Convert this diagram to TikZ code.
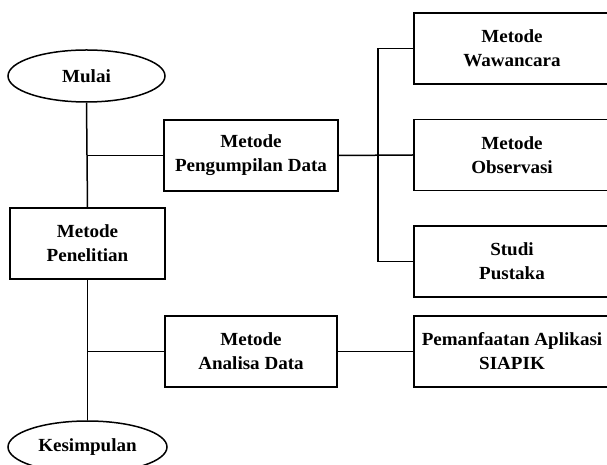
\documentclass[tikz,border=0pt]{standalone}
\usepackage{fontspec}
\setmainfont[FakeStretch=1.03]{Liberation Serif}
\usetikzlibrary{shapes.geometric}

\begin{document}
\begin{tikzpicture}[x=1pt,y=1pt,
  kotak/.style={draw,line width=1.5pt,rectangle,inner sep=0pt,minimum height=71pt,align=center,
    font=\fontsize{18.5}{24}\selectfont\bfseries},
  elips/.style={draw,line width=1.5pt,ellipse,inner sep=0pt,minimum height=52pt,
    font=\fontsize{18.5}{24}\selectfont\bfseries},
  garis/.style={line width=1.5pt}]

\useasboundingbox (0,0) rectangle (607,465);

% kolom kiri
\node[elips,minimum width=157pt] (mulai) at (86.5,389) {Mulai};
\node[kotak,minimum width=155pt] (penelitian) at (87.5,221.5) {Metode\\Penelitian};
\node[elips,minimum width=159pt] (kesimpulan) at (87.5,18) {Kesimpulan};

% kolom tengah
\node[kotak,minimum width=174pt] (pengumpulan) at (251,309.5) {Metode\\Pengumpilan Data};
\node[kotak,minimum width=172pt] (analisa) at (251,113.5) {Metode\\Analisa Data};

% kolom kanan
\node[kotak,minimum width=196pt] (wawancara) at (512,416.5) {Metode\\Wawancara};
\node[kotak,minimum width=196pt] (observasi) at (512,310) {Metode\\Observasi};
\node[kotak,minimum width=196pt] (pustaka) at (512,203.5) {Studi\\Pustaka};
\node[kotak,minimum width=196pt] (siapik) at (512,113.5) {Pemanfaatan Aplikasi\\SIAPIK};

\coordinate (trunk) at (378,0);

% penghubung
\draw[garis] (mulai.south) -- (penelitian.north);
\draw[garis] (penelitian.south) -- (kesimpulan.north);
\draw[garis] (pengumpulan.west) -- (pengumpulan.west -| mulai.south);
\draw[garis] (analisa.west) -- (analisa.west -| penelitian.south);
\draw[garis] (pengumpulan.east) -- (observasi.west);
\draw[garis] (wawancara.west) -- (wawancara.west -| trunk) -- (pustaka.west -| trunk) -- (pustaka.west);
\draw[garis] (analisa.east) -- (siapik.west);

\end{tikzpicture}
\end{document}
